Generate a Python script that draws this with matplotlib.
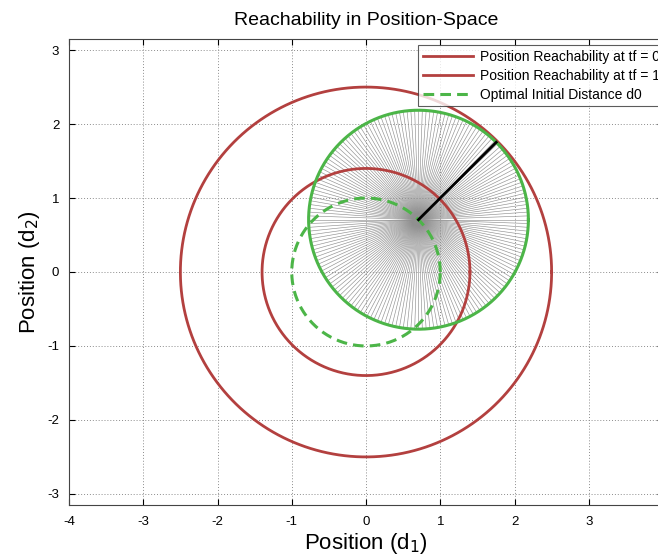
import numpy as np
import matplotlib
matplotlib.use("Agg")
import matplotlib.pyplot as plt

plt.rcParams['font.family'] = ['Liberation Sans', 'DejaVu Sans']
plt.rcParams['axes.unicode_minus'] = False

# Data
reach_radii = [2.5, 1.4]                      # position reachability circles (centered at origin)
reach_labels = ['Position Reachability at tf = 0.5', 'Position Reachability at tf = 1']
d0_radius = 1.0                                # optimal initial distance d0
d0_label = 'Optimal Initial Distance d0'
target_center = [0.707, 0.707]                 # center of green reachable circle / ray origin
target_radius = 1.48
n_rays = 180
highlight_angle_deg = 45.0
x_ticks = [-4, -3, -2, -1, 0, 1, 2, 3, 4]
y_ticks = [-3, -2, -1, 0, 1, 2, 3]

red = '#b3403f'
green = '#4cb548'

W, H = 658, 559
fig = plt.figure(figsize=(W/100, H/100), dpi=100)
ax = fig.add_axes([69/W, (559-505)/H, (663-69)/W, (505-39)/H])

t = np.linspace(0, 2*np.pi, 400)

# rays
cx, cy = target_center
angles = np.linspace(0, 2*np.pi, n_rays, endpoint=False)
for a in angles:
    ax.plot([cx, cx + target_radius*np.cos(a)], [cy, cy + target_radius*np.sin(a)],
            color='#909090', lw=0.45, zorder=1)

h = []
for r, lab in zip(reach_radii, reach_labels):
    ln, = ax.plot(r*np.cos(t), r*np.sin(t), color=red, lw=2.0, label=lab, zorder=3)
    h.append(ln)
ln, = ax.plot(d0_radius*np.cos(t), d0_radius*np.sin(t), color=green, lw=2.2, ls=(0, (3.5, 2)),
              label=d0_label, zorder=3)
h.append(ln)
ax.plot(cx + target_radius*np.cos(t), cy + target_radius*np.sin(t), color=green, lw=2.2, zorder=3)

ha = np.deg2rad(highlight_angle_deg)
ax.plot([cx, cx + target_radius*np.cos(ha)], [cy, cy + target_radius*np.sin(ha)],
        color='black', lw=2.0, zorder=4)

ax.set_xlim(-4, 4)
ax.set_ylim(-3.15, 3.15)
ax.set_xticks(x_ticks)
ax.set_yticks(y_ticks)
ax.tick_params(direction='in', labelsize=9.5, length=4, top=True, right=True)
ax.tick_params(axis='x', pad=8)
ax.tick_params(axis='y', pad=7)
ax.grid(True, ls=(0, (1, 2)), color='#8c8c8c', lw=0.7)
for s in ax.spines.values():
    s.set_color('#444444')

ax.set_title('Reachability in Position-Space', fontsize=14, pad=10)
ax.set_xlabel('Position (d$_1$)', fontsize=16, labelpad=2)
ax.set_ylabel('Position (d$_2$)', fontsize=16, labelpad=4)

leg = fig.legend(handles=h, loc='upper left', bbox_to_anchor=(418/W, 1 - 45/H),
                 bbox_transform=fig.transFigure, fontsize=10, frameon=True, fancybox=False,
                 edgecolor='#333333', borderaxespad=0.0, handlelength=3.6, handletextpad=0.5,
                 labelspacing=0.35, borderpad=0.35)
leg.get_frame().set_linewidth(0.8)

fig.savefig('out.png', dpi=100)
